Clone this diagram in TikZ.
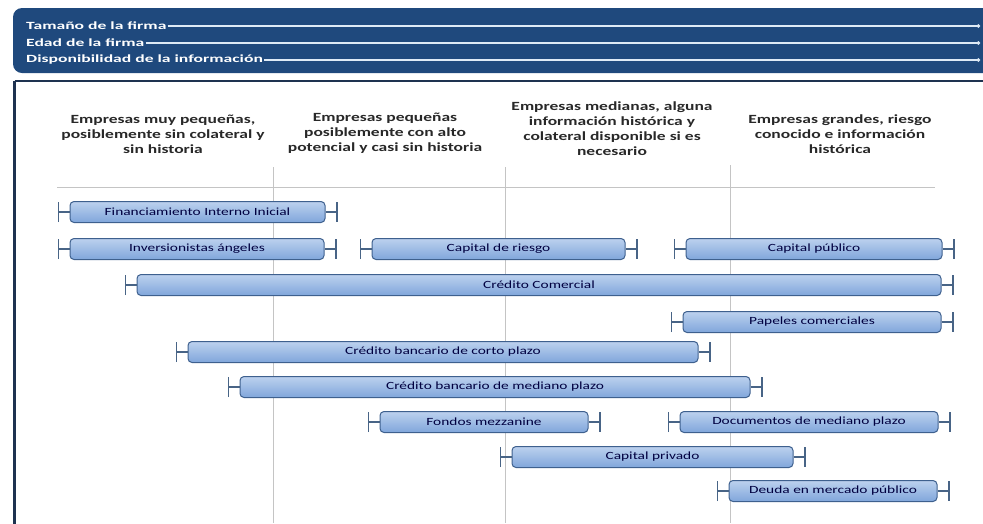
\documentclass[tikz,border=0pt]{standalone}
\usepackage{fontspec}
\setmainfont{Carlito}[FakeStretch=1.4]
\newfontfamily\bannerfont{Carlito}[FakeStretch=1.6]
\usetikzlibrary{positioning,calc,arrows.meta}
\definecolor{bannerblue}{RGB}{31,73,125}
\definecolor{framenavy}{RGB}{30,50,80}
\definecolor{barlight}{RGB}{188,209,238}
\definecolor{bardark}{RGB}{128,166,219}
\definecolor{barline}{RGB}{62,96,142}
\definecolor{tickblue}{RGB}{72,100,134}
\definecolor{gridgray}{RGB}{196,196,196}
\definecolor{headtext}{RGB}{40,40,40}
\definecolor{linewhite}{RGB}{222,234,246}

% one financing bar with its end brackets
\newcommand{\finbar}[5]{%
	\node[barbox,minimum width={#3-#2}] (#1) at ({(#2+#3)/2},#4) {#5};
	\coordinate (#1-l) at ($(#1.west)+(-12,0)$);
	\coordinate (#1-r) at ($(#1.east)+(12,0)$);
	\draw[brackline] (#1.west) -- (#1-l);
	\draw[brackline] (#1.east) -- (#1-r);
}

\tikzset{
	barbox/.style={rectangle,rounded corners=4pt,draw=barline,line width=1pt,top color=barlight,bottom color=bardark,minimum height=21pt,inner sep=0pt,text=black!75!blue,font=\fontsize{11}{12}\selectfont},
	brackline/.style={draw=tickblue,line width=1.3pt,-{Bar[width=20pt,line width=1.3pt]}},
	headbox/.style={align=center,anchor=south,inner sep=0pt,text=headtext,font=\fontsize{12.5}{15}\selectfont\bfseries},
	bantext/.style={anchor=west,inner sep=1pt,text=white,font=\bannerfont\fontsize{11}{12}\selectfont\bfseries},
	banline/.style={draw=linewhite,line width=1.2pt,-{Circle[length=3.5pt]}}
}

\begin{document}
\begin{tikzpicture}[x=1pt,y=-1pt]

		\useasboundingbox (0,0) rectangle (983,523);
		\clip (0,0) rectangle (983,523);

		% banner
		\fill[bannerblue,rounded corners=9pt] (13,8) rectangle (1010,73);

		\node[bantext] (size) at (25,26) {Tamaño de la firma};
		\node[bantext] (age) at (25,43) {Edad de la firma};
		\node[bantext] (info) at (25,60) {Disponibilidad de la información};
		\coordinate (size-end) at (980,26);
		\coordinate (age-end) at (980,43);
		\coordinate (info-end) at (980,60);
		\draw[banline] (size) -- (size-end);
		\draw[banline] (age) -- (age-end);
		\draw[banline] (info) -- (info-end);

		% frame
		\draw[framenavy,line width=1.5pt] (14.5,81) -- (1010,81);
		\draw[framenavy,line width=3pt] (14.5,80.5) -- (14.5,530);

		% grid
		\draw[gridgray,line width=0.8pt] (273,167) -- (273,523);
		\draw[gridgray,line width=0.8pt] (505,167) -- (505,523);
		\draw[gridgray,line width=0.8pt] (730,165) -- (730,523);
		\draw[gridgray,line width=0.8pt] (57,187) -- (935,187);

		% column headings
		\node[headbox] (small) at (163,154) {Empresas muy pequeñas,\\posiblemente sin colateral y\\sin historia};
		\node[headbox] (young) at (385,154) {Empresas pequeñas\\posiblemente con alto\\potencial y casi sin historia};
		\node[headbox] (medium) at (612,156) {Empresas medianas, alguna\\información histórica y\\colateral disponible si es\\necesario};
		\node[headbox] (large) at (840,154) {Empresas grandes, riesgo\\conocido e información\\histórica};

		% bars
		\finbar{fin}{70}{325}{212}{Financiamiento Interno Inicial}
		\finbar{ang}{70}{324}{249}{Inversionistas ángeles}
		\finbar{rie}{372}{625}{249}{Capital de riesgo}
		\finbar{pub}{686}{942}{249}{Capital público}
		\finbar{com}{137}{941}{285}{Crédito Comercial}
		\finbar{pap}{683}{941}{322}{Papeles comerciales}
		\finbar{cor}{188}{698}{352}{Crédito bancario de corto plazo}
		\finbar{med}{240}{750}{387}{Crédito bancario de mediano plazo}
		\finbar{mez}{380}{588}{422}{Fondos mezzanine}
		\finbar{doc}{680}{938}{422}{Documentos de mediano plazo}
		\finbar{pri}{512}{793}{457}{Capital privado}
		\finbar{deu}{729}{937}{491}{Deuda en mercado público}

\end{tikzpicture}
\end{document}
